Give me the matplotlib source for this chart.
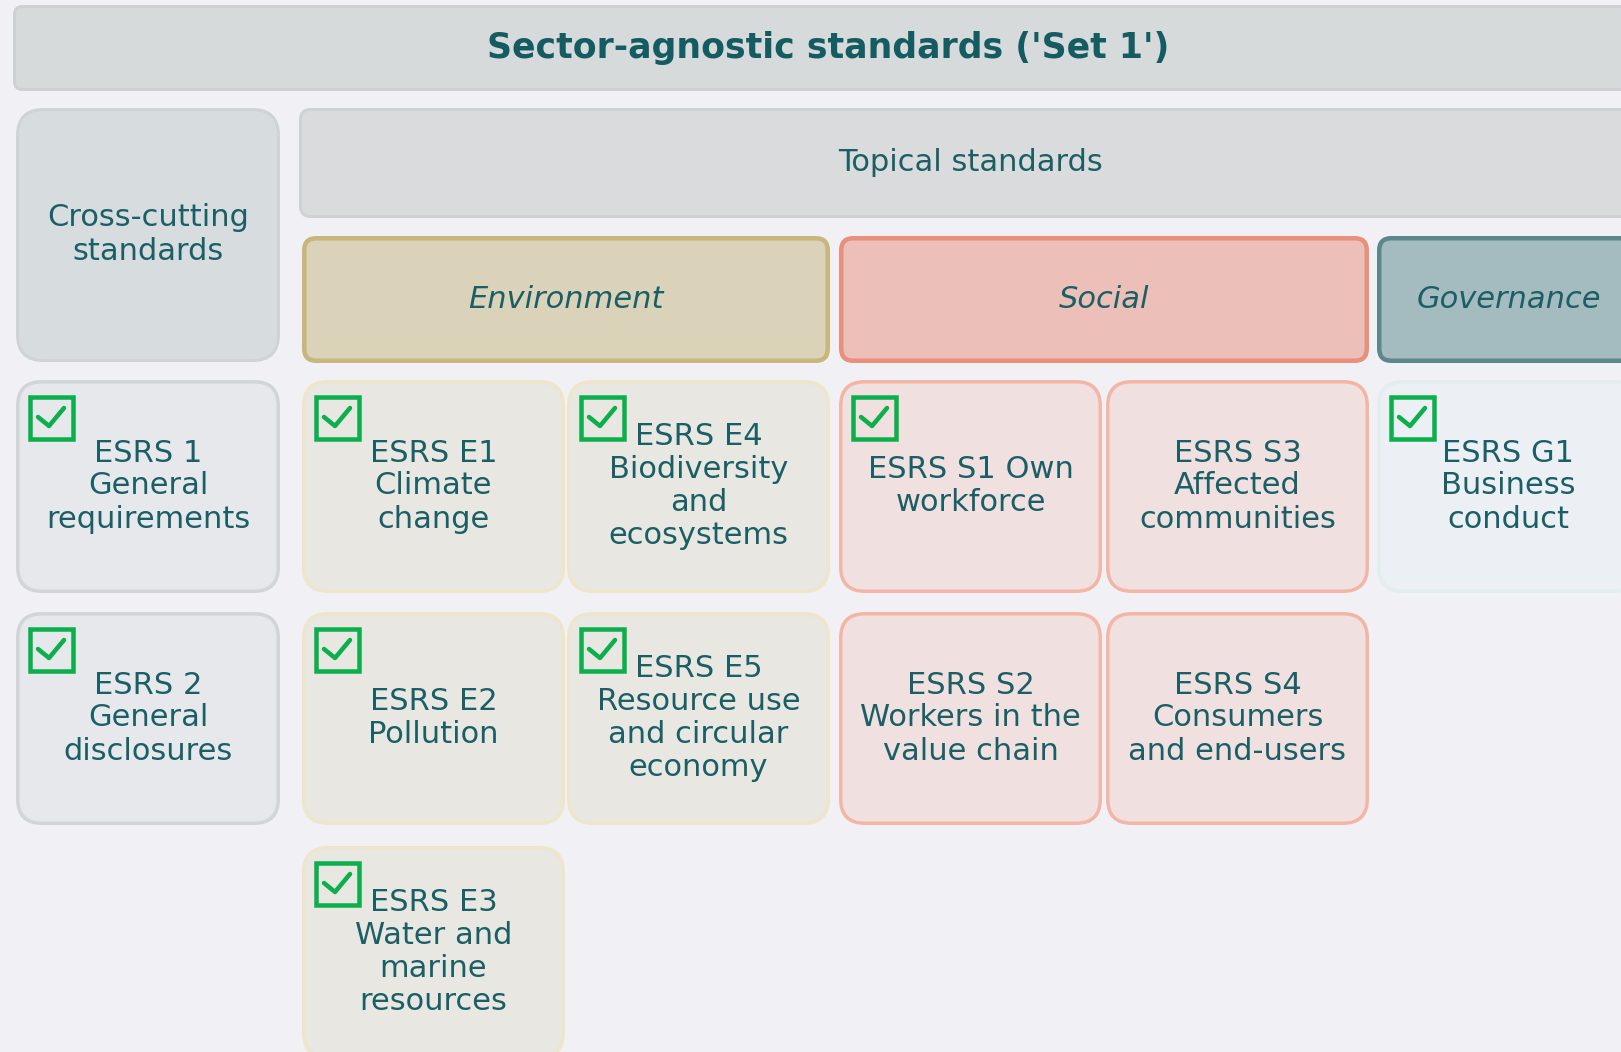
import matplotlib
matplotlib.use("Agg")
import matplotlib.pyplot as plt
from matplotlib.patches import FancyBboxPatch, Rectangle
from matplotlib.lines import Line2D

# ---------------- data ----------------
title = "Sector-agnostic standards ('Set 1')"
crosscut_header = ["Cross-cutting", "standards"]
topical_header = "Topical standards"
pillars = ["Environment", "Social", "Governance"]
pillar_groups = ["env", "soc", "gov"]
pillar_first_col = [1, 3, 5]
pillar_last_col = [2, 4, 5]

standard_labels = [
    ["ESRS 1", "General", "requirements"],
    ["ESRS 2", "General", "disclosures"],
    ["ESRS E1", "Climate", "change"],
    ["ESRS E2", "Pollution"],
    ["ESRS E3", "Water and", "marine", "resources"],
    ["ESRS E4", "Biodiversity", "and", "ecosystems"],
    ["ESRS E5", "Resource use", "and circular", "economy"],
    ["ESRS S1 Own", "workforce"],
    ["ESRS S2", "Workers in the", "value chain"],
    ["ESRS S3", "Affected", "communities"],
    ["ESRS S4", "Consumers", "and end-users"],
    ["ESRS G1", "Business", "conduct"],
]
standard_cols = [0, 0, 1, 1, 1, 2, 2, 3, 3, 4, 4, 5]
standard_rows = [0, 1, 0, 1, 2, 0, 1, 0, 1, 0, 1, 0]
standard_checked = [True, True, True, True, True, True, True, True, False, False, False, True]
col_groups = ["cross", "env", "env", "soc", "soc", "gov"]

# ---------------- layout / style ----------------
W, H = 1621, 1052
col_x = [16, 302, 567, 839, 1106, 1377]
col_w = 263
row_y = [380, 612, 846]
row_h = 213
line_gap = 33

bg = "#F0F0F5"
txt = "#1B5F66"
title_col = "#145C62"
green = "#0BAF4C"
cell_style = {
    "cross": ("#E6E8EC", "#D2D5D8"),
    "env": ("#E9E7E1", "#EEE6CB"),
    "soc": ("#F1E0E0", "#F3B6A6"),
    "gov": ("#ECEFF3", "#E2EDED"),
}
head_style = {
    "env": ("#DAD3BA", "#C8B67C"),
    "soc": ("#ECC0B8", "#E8907B"),
    "gov": ("#A4BBBF", "#5D888B"),
}
FS = 22
PX = 0.72  # points per pixel at dpi 100

fig = plt.figure(figsize=(W / 100, H / 100), dpi=100, facecolor=bg)
ax = fig.add_axes([0, 0, 1, 1])
ax.set_xlim(0, W)
ax.set_ylim(H, 0)
ax.axis("off")
ax.set_facecolor(bg)


def rbox(x, y, w, h, fc, ec, lw_px, r):
    ins = lw_px / 2
    p = FancyBboxPatch((x + ins, y + ins), w - 2 * ins, h - 2 * ins,
                       boxstyle=f"round,pad=0,rounding_size={r}",
                       fc=fc, ec=ec, lw=lw_px * PX, zorder=1)
    ax.add_patch(p)


def lines_text(cx, cy, lines, size=FS, **kw):
    n = len(lines)
    for i, s in enumerate(lines):
        yb = cy + 8 + (i - (n - 1) / 2) * line_gap
        ax.text(cx, yb, s, ha="center", va="baseline", fontsize=size,
                color=txt, family="DejaVu Sans", zorder=5, **kw)


def checkbox(x, y):
    s = 47
    lw = 4.5
    ax.add_patch(Rectangle((x + lw / 2, y + lw / 2), s - lw, s - 1 - lw,
                           fill=False, ec=green, lw=lw * PX, zorder=6,
                           joinstyle="miter"))
    ax.add_line(Line2D([x + 10, x + 21, x + 36], [y + 22, y + 31, y + 13],
                       color=green, lw=4.5 * PX, zorder=7,
                       solid_capstyle="round", solid_joinstyle="round"))


# banner
rbox(13, 5, 1630, 86, "#D6DADA", "#CDD1D1", 3, 8)
ax.text(828, 58, title, ha="center", va="baseline", fontsize=25,
        fontweight="bold", color=title_col, family="DejaVu Sans", zorder=5)

# cross-cutting header
rbox(16, 108, 264, 254, "#D7DCDF", "#CFD3D5", 3, 26)
lines_text(148, 235, crosscut_header)

# topical header
rbox(299, 108, 1342, 110, "#DADBDD", "#CFD2D3", 3, 10)
lines_text(970, 163, [topical_header])

# pillar headers
for name, g, c0, c1 in zip(pillars, pillar_groups, pillar_first_col, pillar_last_col):
    x0 = col_x[c0]
    x1 = col_x[c1] + col_w
    fc, ec = head_style[g]
    rbox(x0, 236, x1 - x0, 127, fc, ec, 4.5, 12)
    lines_text((x0 + x1) / 2, 299.5, [name], style="italic")

# standard cells
for lab, c, r, chk in zip(standard_labels, standard_cols, standard_rows, standard_checked):
    x = col_x[c]
    y = row_y[r]
    w = 264 if c == 0 else col_w
    fc, ec = cell_style[col_groups[c]]
    rbox(x, y, w, row_h, fc, ec, 3.5, 24)
    lines_text(x + w / 2, y + row_h / 2, lab)
    if chk:
        checkbox(x + 12, y + 15)

fig.savefig("out.png", dpi=100, facecolor=bg)
